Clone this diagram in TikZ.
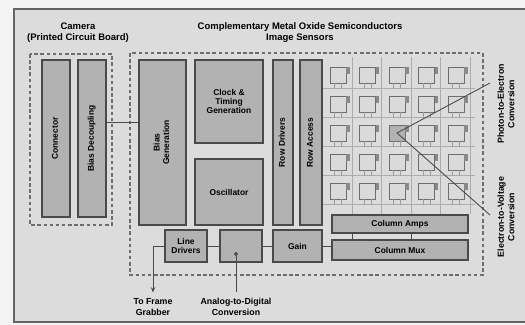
\documentclass[tikz,border=0pt]{standalone}
\usepackage{fontspec}
\setmainfont{Liberation Sans}
\usepackage{tikz}
\usetikzlibrary{arrows.meta, positioning}

\definecolor{paper}{HTML}{F4F4F4}
\definecolor{panel}{HTML}{DCDCDC}
\definecolor{blockfill}{HTML}{B2B2B2}
\definecolor{edge}{HTML}{4A4A4A}
\definecolor{cellfill}{HTML}{DADADA}

\newcommand{\vtext}[1]{\rotatebox{90}{\begin{tabular}{@{}c@{}}#1\end{tabular}}}

\tikzset{
	block/.style={draw=edge, fill=blockfill, line width=0.7pt, inner sep=1pt, font=\fontsize{4.8}{5.4}\selectfont\bfseries},
	board/.style={draw=edge!80, dash pattern=on 2pt off 1.5pt, line width=0.6pt},
	wire/.style={draw=edge, line width=0.5pt},
	gridline/.style={draw=gray!65, line width=0.5pt},
	pix/.style={draw=edge!80, line width=0.5pt, minimum size=0.32cm, inner sep=0pt},
	title/.style={align=center, font=\fontsize{5.4}{6.6}\selectfont\bfseries},
	note/.style={align=center, font=\fontsize{5}{6}\selectfont\bfseries},
}

\begin{document}
\begin{tikzpicture}
		\useasboundingbox (0,0) rectangle (10.5,6.5);
		% Paths, nodes and wires:
		\fill[paper] (0,0) rectangle (10.5,6.5);
		\draw[edge!85, line width=1.1pt, fill=panel] (0.28,6.32) rectangle (10.8,0.06);
		\node[title] (camttl) at (1.56,5.85) {Camera\\(Printed Circuit Board)};
		\node[title] (cisttl) at (6.0,5.85) {Complementary Metal Oxide Semiconductors\\Image Sensors};
		\draw[board] (0.6,5.42) rectangle (2.24,2.0);
		\draw[board] (2.6,5.44) rectangle (9.66,1.0);
		% blocks
		\node[block, minimum width=0.56cm, minimum height=3.14cm] (conn) at (1.12,3.73) {\vtext{Connector}};
		\node[block, minimum width=0.56cm, minimum height=3.14cm] (bdec) at (1.84,3.73) {\vtext{Bias Decoupling}};
		\node[block, minimum width=0.94cm, minimum height=3.3cm] (bgen) at (3.25,3.65) {\vtext{Bias\\Generation}};
		\node[block, align=center, minimum width=1.36cm, minimum height=1.66cm] (clk) at (4.58,4.47) {Clock \&\\Timing\\Generation};
		\node[block, minimum width=1.36cm, minimum height=1.32cm] (osc) at (4.58,2.66) {Oscillator};
		\node[block, minimum width=0.4cm, minimum height=3.3cm] (rdrv) at (5.66,3.65) {\vtext{Row Drivers}};
		\node[block, minimum width=0.44cm, minimum height=3.3cm] (racc) at (6.22,3.65) {\vtext{Row Access}};
		\node[block, minimum width=2.72cm, minimum height=0.36cm] (camp) at (8.0,2.02) {Column Amps};
		\node[block, minimum width=2.72cm, minimum height=0.4cm] (cmux) at (8.0,1.5) {Column Mux};
		\node[block, align=center, minimum width=0.84cm, minimum height=0.64cm] (ldrv) at (3.72,1.58) {Line\\Drivers};
		\node[block, minimum width=0.84cm, minimum height=0.64cm] (adc) at (4.82,1.58) {};
		\node[block, minimum width=0.98cm, minimum height=0.64cm] (gain) at (5.95,1.58) {Gain};
		% pixel array
		\foreach \r in {1,...,5} {
			\coordinate (hl\r) at (9.5,{5.32-0.58*\r});
			\draw[gridline] (racc.east |- hl\r) -- (hl\r);
		}
		\foreach \c in {1,...,5} {
			\coordinate (cv\c) at ({6.45+0.59*\c},5.36);
			\draw[gridline] (cv\c) -- (cv\c |- camp.north);
		}
		\foreach \r in {1,...,5}
			\foreach \c in {1,...,5} {
				\ifnum\r\c=33 \def\pf{blockfill}\else\def\pf{cellfill}\fi
				\node[pix, fill=\pf] (p\r\c) at ({6.17+0.59*\c},{5.58-0.58*\r}) {};
				\fill[edge!65] (p\r\c.north east) rectangle ++(0.07,-0.15);
				\draw[edge!55, line width=0.4pt] ([xshift=-0.07cm]p\r\c.south) -- ++(0,-0.12) ([xshift=0.07cm]p\r\c.south) -- ++(0,-0.12);
			}
		\draw[wire] (cv1 |- camp.south) -- (cv1 |- cmux.north);
		\draw[wire] (cv3 |- camp.south) -- (cv3 |- cmux.north);
		% pointers to the pixel
		\coordinate (pe) at (9.8,4.84);
		\coordinate (ev) at (9.8,2.2);
		\draw[wire] (p33.center) -- (pe);
		\draw[wire] (p33.center) -- (ev);
		\node[note, rotate=90] (pelbl) at (10.12,4.42) {Photon-to-Electron\\Conversion};
		\node[note, rotate=90] (evlbl) at (10.12,2.16) {Electron-to-Voltage\\Conversion};
		% wires
		\draw[wire] ([yshift=0.33cm]bdec.east) -- ([yshift=0.33cm]bdec.east -| bgen.west);
		\draw[wire] (ldrv.east) -- (adc.west);
		\draw[wire] (adc.east) -- (gain.west);
		\draw[wire] (gain.east) -- (gain.east -| cmux.west);
		\node[note] (fglbl) at (3.06,0.36) {To Frame\\Grabber};
		\node[note] (adclbl) at (4.72,0.36) {Analog-to-Digital\\Conversion};
		\coordinate (adcpin) at (4.72,1.46);
		\draw[wire, -{Stealth[length=3pt, width=2.5pt]}] (ldrv.west) -| (fglbl.north);
		\draw[wire, {Circle[length=2.2pt]}-] (adcpin) -- (adclbl.north);
	\end{tikzpicture}
\end{document}
